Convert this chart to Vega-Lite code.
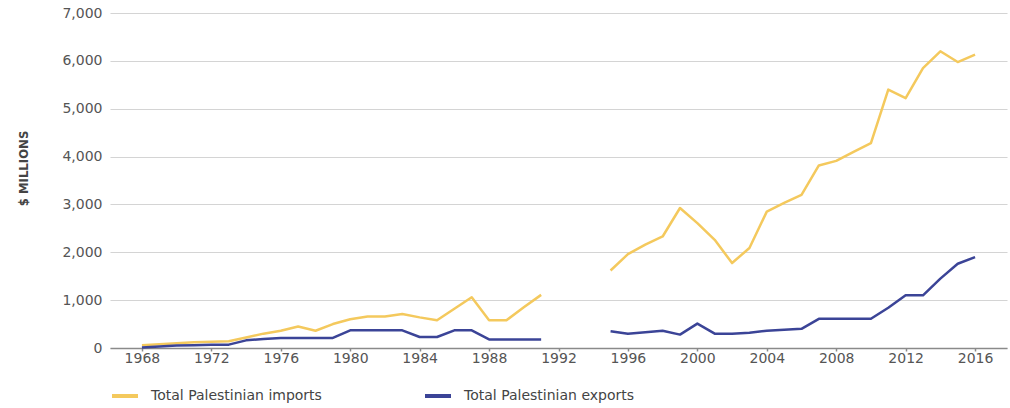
{
  "$schema": "https://vega.github.io/schema/vega-lite/v6.json",
  "width": 897,
  "height": 335,
  "autosize": {"type": "none"},
  "padding": {"left": 110, "top": 13, "right": 3, "bottom": 60},
  "background": "white",
  "config": {"view": {"stroke": null}},
  "data": {"values": [
    {"year":1968,"period":"a","imports":60,"exports":10},
    {"year":1969,"period":"a","imports":80,"exports":30},
    {"year":1970,"period":"a","imports":100,"exports":50},
    {"year":1971,"period":"a","imports":120,"exports":60},
    {"year":1972,"period":"a","imports":130,"exports":70},
    {"year":1973,"period":"a","imports":140,"exports":70},
    {"year":1974,"period":"a","imports":220,"exports":160},
    {"year":1975,"period":"a","imports":300,"exports":190},
    {"year":1976,"period":"a","imports":360,"exports":210},
    {"year":1977,"period":"a","imports":450,"exports":210},
    {"year":1978,"period":"a","imports":360,"exports":210},
    {"year":1979,"period":"a","imports":500,"exports":210},
    {"year":1980,"period":"a","imports":600,"exports":370},
    {"year":1981,"period":"a","imports":660,"exports":370},
    {"year":1982,"period":"a","imports":660,"exports":370},
    {"year":1983,"period":"a","imports":710,"exports":370},
    {"year":1984,"period":"a","imports":640,"exports":230},
    {"year":1985,"period":"a","imports":580,"exports":230},
    {"year":1986,"period":"a","imports":820,"exports":370},
    {"year":1987,"period":"a","imports":1060,"exports":370},
    {"year":1988,"period":"a","imports":580,"exports":180},
    {"year":1989,"period":"a","imports":580,"exports":180},
    {"year":1990,"period":"a","imports":850,"exports":180},
    {"year":1991,"period":"a","imports":1110,"exports":180},
    {"year":1995,"period":"b","imports":1620,"exports":350},
    {"year":1996,"period":"b","imports":1960,"exports":300},
    {"year":1997,"period":"b","imports":2160,"exports":330},
    {"year":1998,"period":"b","imports":2330,"exports":360},
    {"year":1999,"period":"b","imports":2925,"exports":280},
    {"year":2000,"period":"b","imports":2610,"exports":510},
    {"year":2001,"period":"b","imports":2260,"exports":300},
    {"year":2002,"period":"b","imports":1775,"exports":300},
    {"year":2003,"period":"b","imports":2090,"exports":320},
    {"year":2004,"period":"b","imports":2850,"exports":360},
    {"year":2005,"period":"b","imports":3030,"exports":380},
    {"year":2006,"period":"b","imports":3200,"exports":400},
    {"year":2007,"period":"b","imports":3815,"exports":610},
    {"year":2008,"period":"b","imports":3910,"exports":610},
    {"year":2009,"period":"b","imports":4100,"exports":610},
    {"year":2010,"period":"b","imports":4280,"exports":610},
    {"year":2011,"period":"b","imports":5400,"exports":840},
    {"year":2012,"period":"b","imports":5220,"exports":1100},
    {"year":2013,"period":"b","imports":5850,"exports":1100},
    {"year":2014,"period":"b","imports":6200,"exports":1450},
    {"year":2015,"period":"b","imports":5975,"exports":1760},
    {"year":2016,"period":"b","imports":6130,"exports":1900}
  ]},
  "transform": [{"fold": ["imports", "exports"], "as": ["series", "value"]}],
  "mark": {"type": "line", "strokeWidth": 2.5, "strokeJoin": "round"},
  "encoding": {
    "x": {
      "field": "year", "type": "quantitative",
      "scale": {"domain": [1966.16, 2017.84], "nice": false, "zero": false},
      "axis": {
        "values": [1968,1972,1976,1980,1984,1988,1992,1996,2000,2004,2008,2012,2016],
        "format": "d", "title": null, "grid": false,
        "domainColor": "#8a8a8a", "domainWidth": 1.5,
        "tickColor": "#8a8a8a", "tickSize": 3, "tickWidth": 1.5,
        "labelFont": "DejaVu Sans", "labelFontSize": 14, "labelColor": "#555555",
        "labelPadding": 0
      }
    },
    "y": {
      "field": "value", "type": "quantitative",
      "scale": {"domain": [0, 7000], "nice": false},
      "axis": {
        "values": [0,1000,2000,3000,4000,5000,6000,7000],
        "format": ",d", "domain": false, "ticks": false,
        "gridColor": "#d4d4d4", "gridWidth": 1.2,
        "labelFont": "DejaVu Sans", "labelFontSize": 14, "labelColor": "#555555",
        "labelPadding": 8,
        "title": "$ MILLIONS",
        "titleFont": "DejaVu Sans Condensed", "titleFontWeight": "bold",
        "titleFontSize": 13, "titleColor": "#444444",
        "titleAngle": -90, "titleX": -87, "titleY": 155,
        "titleAlign": "center", "titleBaseline": "middle"
      }
    },
    "color": {
      "field": "series", "type": "nominal",
      "scale": {"domain": ["imports", "exports"], "range": ["#F4C95D", "#3B4497"]},
      "legend": {
        "orient": "none", "legendX": 0, "legendY": 368,
        "direction": "horizontal", "title": null,
        "symbolType": "stroke", "symbolSize": 676, "symbolStrokeWidth": 4,
        "labelExpr": "datum.value == 'imports' ? 'Total Palestinian imports' : 'Total Palestinian exports'",
        "labelFont": "DejaVu Sans", "labelFontSize": 14, "labelColor": "#444444",
        "labelOffset": 11, "columnPadding": 95, "labelLimit": 400
      }
    },
    "detail": {"field": "period", "type": "nominal"}
  }
}
